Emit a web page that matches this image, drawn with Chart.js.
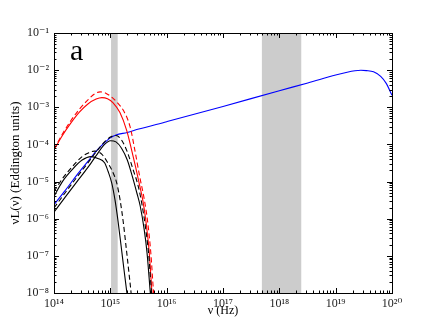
<!DOCTYPE html>
<html>
<head>
<meta charset="utf-8">
<script src="https://cdn.jsdelivr.net/npm/chart.js@4.4.1/dist/chart.umd.min.js"></script>
<style>
  html, body { margin: 0; padding: 0; background: #fff; }
  #wrap { width: 436px; height: 327px; }
</style>
</head>
<body>
<div id="wrap"><canvas id="sed" width="436" height="327"></canvas></div>
<script>
// frequency (Hz) and nuL(nu) (Eddington units)
var blueNu = [1e14, 1.6e14, 2.5e14, 4e14, 5.6e14, 7.9e14, 1e15, 1.26e15, 2e15, 3.2e15, 1e16, 1e17, 1e18, 3.2e18, 1e19, 1.6e19, 2.2e19, 2.8e19, 3.5e19, 4.7e19, 6.3e19, 7.9e19, 1e20];
var blueL = [2.4e-6, 5.9e-6, 1.45e-5, 3.5e-5, 6.6e-5, 1.12e-4, 1.5e-4, 1.8e-4, 2.1e-4, 2.6e-4, 4.1e-4, 1.05e-3, 2.8e-3, 4.5e-3, 7.4e-3, 8.8e-3, 9.6e-3, 9.9e-3, 9.7e-3, 9.0e-3, 6.8e-3, 4.4e-3, 2.1e-3];

var redNu = [1e14, 1.41e14, 2e14, 2.82e14, 4e14, 5.6e14, 7.1e14, 8.9e14, 1.12e15, 1.48e15, 1.95e15, 2.43e15, 2.82e15, 3.31e15, 3.76e15, 4.27e15, 4.9e15, 5.43e15, 5.75e15];
var redL = [7.1e-5, 1.74e-4, 3.8e-4, 7.4e-4, 1.23e-3, 1.66e-3, 1.82e-3, 1.7e-3, 1.32e-3, 7.2e-4, 2.4e-4, 6.3e-5, 2.4e-5, 7.9e-6, 3.2e-6, 8.9e-7, 1.26e-7, 1.26e-8, 4e-9];

var redDashNu = [1e14, 1.41e14, 2e14, 2.82e14, 4e14, 5.25e14, 6.6e14, 8.3e14, 1.12e15, 1.38e15, 1.7e15, 2.24e15, 2.75e15, 3.31e15, 4.02e15, 4.57e15, 5.25e15, 5.8e15, 6.17e15];
var redDashL = [7.4e-5, 1.9e-4, 4.4e-4, 8.9e-4, 1.58e-3, 2.3e-3, 2.6e-3, 2.4e-3, 1.74e-3, 1.26e-3, 8.3e-4, 3e-4, 6.5e-5, 1.4e-5, 3.2e-6, 8.9e-7, 1.12e-7, 1.23e-8, 4e-9];

var bigNu = [1e14, 1.58e14, 2.5e14, 4e14, 5.6e14, 7.9e14, 1e15, 1.26e15, 1.58e15, 2e15, 2.5e15, 2.95e15, 3.39e15, 4e15, 4.47e15, 5.07e15, 5.37e15];
var bigL = [1.5e-6, 3.8e-6, 9.5e-6, 2.4e-5, 5e-5, 1e-4, 1.26e-4, 1.17e-4, 7.9e-5, 3.8e-5, 1.26e-5, 5e-6, 2.2e-6, 5e-7, 1.26e-7, 1.23e-8, 4e-9];

var bigDashNu = [1e14, 1.58e14, 2.5e14, 4e14, 5.6e14, 7.9e14, 1e15, 1.26e15, 1.58e15, 2e15, 2.5e15, 3.1e15, 3.63e15, 4.27e15, 4.79e15, 5.37e15, 5.75e15];
var bigDashL = [1.95e-6, 5e-6, 1.26e-5, 3.2e-5, 6.3e-5, 1.17e-4, 1.58e-4, 1.74e-4, 1.32e-4, 6.3e-5, 2.24e-5, 7.9e-6, 2.5e-6, 5e-7, 1.12e-7, 1.12e-8, 4e-9];

var smallNu = [1e14, 1.41e14, 2.1e14, 3.16e14, 4.54e14, 6e14, 7.9e14, 9.1e14, 1.06e15, 1.21e15, 1.38e15, 1.55e15, 1.74e15, 1.95e15, 2.1e15];
var smallL = [4e-6, 1e-5, 2.1e-5, 3.8e-5, 4.7e-5, 4.2e-5, 3.2e-5, 1.9e-5, 9.1e-6, 3.2e-6, 7.9e-7, 1.9e-7, 4.5e-8, 1.12e-8, 5e-9];

var smallDashNu = [1e14, 1.41e14, 2.1e14, 3.16e14, 4.17e14, 5.25e14, 7.1e14, 8.9e14, 1.07e15, 1.3e15, 1.49e15, 1.7e15, 1.9e15, 2.14e15, 2.37e15, 2.5e15];
var smallDashL = [5.4e-6, 1.2e-5, 2.5e-5, 4.7e-5, 6e-5, 6.6e-5, 5.4e-5, 3.3e-5, 2e-5, 9.1e-6, 3.2e-6, 7.9e-7, 1.8e-7, 3.5e-8, 8e-9, 3e-9];

// shaded observing bands (Hz)
var bandLo = [1.03e15, 4.9e17];
var bandHi = [1.35e15, 2.45e18];

var xTicks = [1e14, 1e15, 1e16, 1e17, 1e18, 1e19, 1e20];
var xTickLabels = ['10¹⁴', '10¹⁵', '10¹⁶', '10¹⁷', '10¹⁸', '10¹⁹', '10²⁰'];
var yTicks = [1e-8, 1e-7, 1e-6, 1e-5, 1e-4, 1e-3, 1e-2, 1e-1];
var yTickLabels = ['10⁻⁸', '10⁻⁷', '10⁻⁶', '10⁻⁵', '10⁻⁴', '10⁻³', '10⁻²', '10⁻¹'];

var serif = "'Liberation Serif', 'DejaVu Serif', serif";

function pts(nu, L) {
    return nu.map(function(x, i) { return {x: x, y: L[i]}; });
}

function series(nu, L, color, dash) {
    return {
        data: pts(nu, L),
        showLine: true,
        borderColor: color,
        borderWidth: 1.1,
        borderDash: dash ? [5, 3] : [],
        pointRadius: 0,
        fill: false,
        cubicInterpolationMode: 'monotone'
    };
}

var bands = {
    id: 'bands',
    beforeDatasetsDraw: function(chart) {
        var ctx = chart.ctx, a = chart.chartArea, xs = chart.scales.x;
        ctx.save();
        ctx.fillStyle = '#cccccc';
        for (var i = 0; i < bandLo.length; i++) {
            var x1 = xs.getPixelForValue(bandLo[i]);
            var x2 = xs.getPixelForValue(bandHi[i]);
            ctx.fillRect(x1, a.top, x2 - x1, a.bottom - a.top);
        }
        ctx.restore();
    }
};

// frame with inward log ticks on all four sides, plus panel letter
var frame = {
    id: 'frame',
    afterDatasetsDraw: function(chart) {
        var ctx = chart.ctx, a = chart.chartArea;
        var xs = chart.scales.x, ys = chart.scales.y;
        ctx.save();
        ctx.strokeStyle = '#000';
        ctx.lineWidth = 1;
        ctx.beginPath();
        var d, k, v, p, len;
        for (d = 14; d <= 20; d++) {
            for (k = 1; k <= 9; k++) {
                v = k * Math.pow(10, d);
                if (v > 1e20 * 1.0001) break;
                p = Math.round(xs.getPixelForValue(v)) + 0.5;
                len = k === 1 ? 5 : 2.5;
                ctx.moveTo(p, a.bottom); ctx.lineTo(p, a.bottom - len);
                ctx.moveTo(p, a.top); ctx.lineTo(p, a.top + len);
            }
        }
        for (d = -8; d <= -1; d++) {
            for (k = 1; k <= 9; k++) {
                v = k * Math.pow(10, d);
                if (v > 1e-1 * 1.0001) break;
                p = Math.round(ys.getPixelForValue(v)) + 0.5;
                len = k === 1 ? 5 : 2.5;
                ctx.moveTo(a.left, p); ctx.lineTo(a.left + len, p);
                ctx.moveTo(a.right, p); ctx.lineTo(a.right - len, p);
            }
        }
        ctx.stroke();
        ctx.strokeRect(Math.round(a.left) + 0.5, Math.round(a.top) + 0.5,
            Math.round(a.right - a.left), Math.round(a.bottom - a.top));
        ctx.fillStyle = '#000';
        ctx.font = '30px ' + serif;
        ctx.textBaseline = 'alphabetic';
        ctx.fillText('a', a.left + 16, a.top + 27);
        ctx.restore();
    }
};

new Chart(document.getElementById('sed'), {
    type: 'scatter',
    data: {
        datasets: [
            series(smallNu, smallL, '#000000', false),
            series(smallDashNu, smallDashL, '#000000', true),
            series(bigNu, bigL, '#000000', false),
            series(bigDashNu, bigDashL, '#000000', true),
            series(redNu, redL, '#ff0000', false),
            series(redDashNu, redDashL, '#ff0000', true),
            series(blueNu, blueL, '#0000ff', false)
        ]
    },
    options: {
        responsive: false,
        animation: false,
        devicePixelRatio: 1,
        layout: { padding: { top: 33, right: 44, left: 0, bottom: 0 } },
        plugins: {
            legend: { display: false },
            tooltip: { enabled: false }
        },
        scales: {
            x: {
                type: 'logarithmic',
                min: 1e14,
                max: 1e20,
                afterFit: function(s) { s.height = 34; },
                afterBuildTicks: function(s) {
                    s.ticks = xTicks.map(function(v) { return {value: v}; });
                },
                grid: { display: false, drawTicks: false },
                border: { display: false },
                ticks: {
                    autoSkip: false,
                    maxRotation: 0,
                    padding: 4,
                    color: '#222',
                    font: { family: serif, size: 12 },
                    callback: function(v) {
                        var i = xTicks.indexOf(v);
                        return i < 0 ? '' : xTickLabels[i];
                    }
                },
                title: {
                    display: true,
                    text: 'ν (Hz)',
                    color: '#000',
                    font: { family: serif, size: 12 },
                    padding: { top: 0, bottom: 9 }
                }
            },
            y: {
                type: 'logarithmic',
                min: 1e-8,
                max: 1e-1,
                afterFit: function(s) { s.width = 54; },
                afterBuildTicks: function(s) {
                    s.ticks = yTicks.map(function(v) { return {value: v}; });
                },
                grid: { display: false, drawTicks: false },
                border: { display: false },
                ticks: {
                    autoSkip: false,
                    padding: 5,
                    color: '#222',
                    font: { family: serif, size: 12 },
                    callback: function(v) {
                        var i = yTicks.indexOf(v);
                        return i < 0 ? '' : yTickLabels[i];
                    }
                },
                title: {
                    display: true,
                    text: 'νL(ν) (Eddington units)',
                    color: '#000',
                    font: { family: serif, size: 13 },
                    padding: { top: 8, bottom: 0 }
                }
            }
        }
    },
    plugins: [bands, frame]
});
</script>
</body>
</html>
